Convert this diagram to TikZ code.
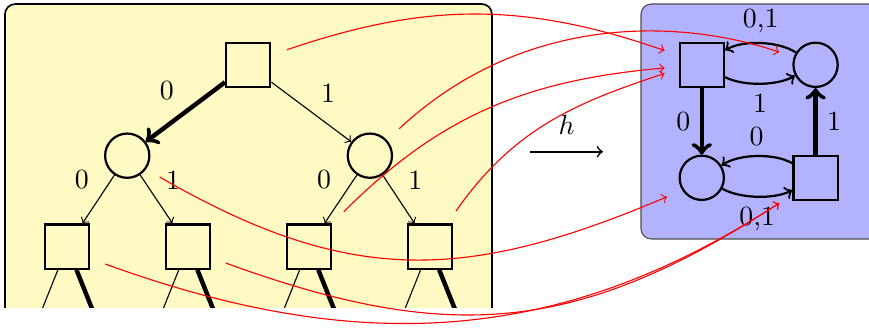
\documentclass[tikz,border=0pt]{standalone}
\usetikzlibrary{calc}
\definecolor{treebg}{RGB}{255,249,196}
\begin{document}
\begin{tikzpicture}[x=1cm,y=1cm,
  sq/.style={draw,thick,rectangle,minimum size=5.6mm,inner sep=0pt},
  ci/.style={draw,thick,circle,minimum size=5.6mm,inner sep=0pt},
  hom/.style={red,->}]
\useasboundingbox (0,0) rectangle (10.996,-4.251);
\clip (0,0) rectangle (10.996,-4.251);
% unfolded tree
\begin{scope}
  \clip (0,0) rectangle (6.3,-3.897);
  \draw[semithick,fill=treebg,rounded corners=1.3mm] (0.063,-0.051) rectangle (6.225,-4.6);
  \node[sq] (root) at (3.14,-0.82) {};
  \node[ci] (n0) at (1.61,-1.97) {};
  \node[ci] (n1) at (4.68,-1.97) {};
  \node[sq] (n00) at (0.85,-3.12) {};
  \node[sq] (n01) at (2.38,-3.12) {};
  \node[sq] (n10) at (3.91,-3.12) {};
  \node[sq] (n11) at (5.44,-3.12) {};
  \draw[->,ultra thick] (root) -- node[above left] {0} (n0);
  \draw[->] (root) -- node[above right] {1} (n1);
  \draw[->] (n0) -- node[above left] {0} (n00);
  \draw[->] (n0) -- node[above right] {1} (n01);
  \draw[->] (n1) -- node[above left] {0} (n10);
  \draw[->] (n1) -- node[above right] {1} (n11);
  \foreach \n in {00,01,10,11} {
    \path (n\n) ++(-0.46,-1.15) coordinate (n\n0) ++(0.92,0) coordinate (n\n1);
    \draw (n\n) -- (n\n0);
    \draw[ultra thick] (n\n) -- (n\n1);
  }
\end{scope}
% the map h
\coordinate (hfrom) at (6.71,-1.92);
\coordinate (hto) at (7.63,-1.92);
\draw[->,semithick] (hfrom) -- node[above=2.7pt] {$h$} (hto);
% finite graph
\draw[fill=blue!30,draw=black!70,rounded corners=1.3mm] (8.111,-0.051) rectangle (11.3,-3.024);
\node[sq] (a) at (8.88,-0.82) {};
\node[ci] (b) at (10.32,-0.82) {};
\node[ci] (c) at (8.88,-2.25) {};
\node[sq] (d) at (10.32,-2.25) {};
\draw[->,ultra thick] (a) -- node[left] {0} (c);
\draw[->,ultra thick] (d) -- node[right] {1} (b);
\draw[->,thick] (b) to[bend right=32,looseness=0.75] node[above] {0,1} (a);
\draw[->,thick] (a) to[bend right=28,looseness=0.75] node[below] {1} (b);
\draw[->,thick] (d) to[bend right=32,looseness=0.75] node[above] {0} (c);
\draw[->,thick] (c) to[bend right=28,looseness=0.75] node[below] {0,1} (d);
% where the tree nodes go
\coordinate (s-root) at ($(root)+(0.49,0.19)$);
\coordinate (s-n1) at ($(n1)+(0.37,0.34)$);
\coordinate (s-n10) at ($(n10)+(0.44,0.44)$);
\coordinate (s-n11) at ($(n11)+(0.33,0.45)$);
\coordinate (s-n0) at ($(n0)+(0.41,-0.27)$);
\coordinate (s-n00) at ($(n00)+(0.48,-0.22)$);
\coordinate (s-n01) at ($(n01)+(0.48,-0.21)$);
\coordinate (t-a1) at ($(a)+(-0.47,0.18)$);
\coordinate (t-a2) at ($(a)+(-0.47,-0.04)$);
\coordinate (t-a3) at ($(a)+(-0.47,-0.11)$);
\coordinate (t-b) at ($(b)+(-0.46,0.16)$);
\coordinate (t-c) at ($(c)+(-0.44,-0.24)$);
\coordinate (t-d) at ($(d)+(-0.46,-0.32)$);
\draw[hom] (s-root) to[bend left=19] (t-a1);
\draw[hom] (s-n1) to[out=43,in=161,out distance=2.23cm,in distance=1.21cm] (t-b);
\draw[hom] (s-n10) to[out=45,in=185] (t-a2);
\draw[hom] (s-n11) to[out=55,in=198] (t-a3);
\draw[hom] (s-n0) to[out=-30,in=203,looseness=1.1] (t-c);
\draw[hom] (s-n00) to[out=-20,in=213] (t-d);
\draw[hom] (s-n01) to[out=-20,in=213,looseness=1.1] (t-d);
\end{tikzpicture}
\end{document}
